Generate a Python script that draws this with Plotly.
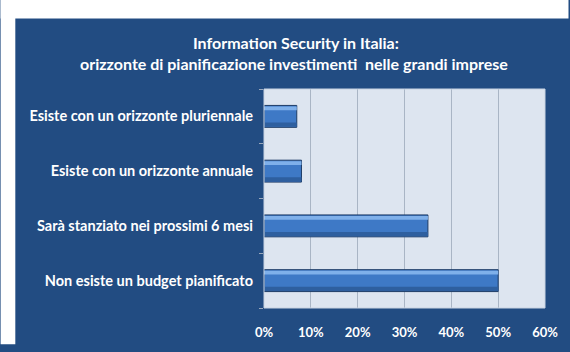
import plotly.graph_objects as go

# Survey answers (top to bottom) and share of respondents
categories = [
    "Esiste con un orizzonte pluriennale",
    "Esiste con un orizzonte annuale",
    "Sarà stanziato nei prossimi 6 mesi",
    "Non esiste un budget pianificato",
]
shares = [0.07, 0.08, 0.35, 0.50]
x_ticks = [0, 0.1, 0.2, 0.3, 0.4, 0.5, 0.6]
x_tick_labels = ["0%", "10%", "20%", "30%", "40%", "50%", "60%"]

title_lines = [
    "Information Security in Italia:",
    "orizzonte di pianificazione investimenti  nelle grandi imprese",
]

PANEL = "#224C82"
PLOT_BG = "#DDE5F0"
FONT = "Lato"

W, H = 570, 352
L, R, T, B = 264, 19, 89, 33
pw, ph = W - L - R, H - T - B


def px_x(px):
    return (px - L) / pw


def px_y(py):
    return (H - B - py) / ph


fig = go.Figure()

# Main bars with a dark outline
fig.add_trace(go.Bar(
    y=categories, x=shares, orientation="h", width=0.40,
    marker=dict(color="#3E79C6", line=dict(color="#1E3C66", width=1)),
    hoverinfo="skip", showlegend=False,
))
# Glossy highlight along the upper edge of each bar
fig.add_trace(go.Bar(
    y=categories, x=shares, orientation="h", width=0.07, offset=0.11,
    marker=dict(color="#7FB0EA", line=dict(width=0)),
    hoverinfo="skip", showlegend=False,
))
# Darker band along the lower edge
fig.add_trace(go.Bar(
    y=categories, x=shares, orientation="h", width=0.08, offset=-0.19,
    marker=dict(color="#2E5F9F", line=dict(width=0)),
    hoverinfo="skip", showlegend=False,
))

# Two-line heading
title_annotations = [
    dict(text=f"<b>{line}</b>", xref="paper", yref="paper",
         x=px_x(cx), y=px_y(cy), xanchor="center", yanchor="middle",
         showarrow=False,
         font=dict(family=FONT, size=16, color="white"))
    for line, cx, cy in zip(title_lines, [297, 295], [40, 62])
]

fig.update_layout(
    width=W, height=H,
    margin=dict(l=L, r=R, t=T, b=B, pad=0),
    paper_bgcolor=PANEL,
    plot_bgcolor=PLOT_BG,
    barmode="overlay",
    font=dict(family=FONT, color="white", size=12),
    annotations=title_annotations,
    xaxis=dict(
        range=[0, 0.6], tickvals=x_ticks, ticktext=x_tick_labels,
        showgrid=True, gridcolor="#A9B5C5", gridwidth=1,
        zeroline=False, showline=False, ticks="",
        tickfont=dict(family=FONT, size=13, color="white", weight="bold"),
        ticklabelstandoff=15, fixedrange=True,
    ),
    yaxis=dict(
        categoryorder="array", categoryarray=categories[::-1],
        showgrid=False, zeroline=False, showline=False,
        ticks="outside", tickson="boundaries", ticklen=4,
        tickcolor="#9AA8BC", ticklabelstandoff=10,
        tickfont=dict(family=FONT, size=14.5, color="white", weight="bold"),
        fixedrange=True,
    ),
    shapes=[
        # white strips framing the dark panel
        dict(type="rect", xref="paper", yref="paper", layer="above",
             x0=px_x(-5), x1=px_x(W + 5), y0=px_y(15), y1=px_y(-5),
             fillcolor="white", line=dict(width=0)),
        dict(type="rect", xref="paper", yref="paper", layer="above",
             x0=px_x(-5), x1=px_x(10), y0=px_y(H + 5), y1=px_y(-5),
             fillcolor="white", line=dict(width=0)),
        # light frame around the plotting area
        dict(type="rect", xref="paper", yref="paper", layer="above",
             x0=0, x1=1, y0=0, y1=1,
             line=dict(color="#C8D3E2", width=1)),
    ],
)

fig.write_html("out.html", config={"displayModeBar": False})
